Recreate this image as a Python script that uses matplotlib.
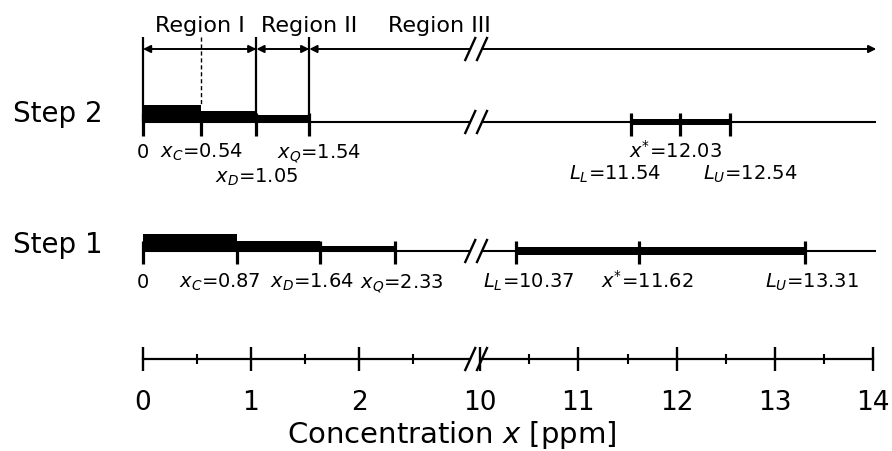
import matplotlib.pyplot as plt
from matplotlib.patches import Rectangle

plt.rcParams['font.family'] = ['DejaVu Sans']
plt.rcParams['mathtext.fontset'] = 'dejavusans'

# ---- values ----
s2_names = ['x_{C}', 'x_{D}', 'x_{Q}']
s2_low = [0.54, 1.05, 1.54]
s2_hi_names = ['L_{L}', 'x^{*}', 'L_{U}']
s2_high = [11.54, 12.03, 12.54]

s1_names = ['x_{C}', 'x_{D}', 'x_{Q}']
s1_low = [0.87, 1.64, 2.33]
s1_hi_names = ['L_{L}', 'x^{*}', 'L_{U}']
s1_high = [10.37, 11.62, 13.31]

major_lo = [0, 1, 2]
minor_lo = [0.5, 1.5, 2.5]
major_hi = [10, 11, 12, 13, 14]
minor_hi = [10.5, 11.5, 12.5, 13.5]

regions = ['Region I', 'Region II', 'Region III']

# ---- layout (pixels, y downwards) ----
W, H = 892, 452
y_top, y_s2, y_s1, y_ax = 50, 123, 252, 360
brk_l, brk_r, x_end = 3.03, 10.02, 14.03
s2_thick = [17, 11, 7]
s1_thick = [17, 10, 5]
s2_band, s1_band = 6, 8
lab_fs = 14

fig = plt.figure(figsize=(W / 100, H / 100), dpi=100)
axL = fig.add_axes([130 / W, 0, 346 / W, 1])
axR = fig.add_axes([476 / W, 0, 416 / W, 1])
axL.set_xlim(-0.12, 3.083)
axR.set_xlim(9.959, 14.19)
ppu = {axL: 346 / 3.203, axR: 416 / (14.19 - 9.959)}

for ax in (axL, axR):
    ax.set_ylim(H, 0)
    ax.patch.set_alpha(0)
    for s in ['top', 'left', 'right']:
        ax.spines[s].set_visible(False)
    ax.spines['bottom'].set_position(('data', y_ax))
    ax.spines['bottom'].set_linewidth(1.6)
    ax.set_yticks([])
    ax.tick_params(axis='x', which='major', direction='inout', length=17,
                   width=1.7, labelsize=19, pad=13)
    ax.tick_params(axis='x', which='minor', direction='inout', length=7, width=1.5)

axL.spines['bottom'].set_bounds(0, brk_l)
axR.spines['bottom'].set_bounds(brk_r, 14)
axL.set_xticks(major_lo)
axL.set_xticks(minor_lo, minor=True)
axR.set_xticks(major_hi)
axR.set_xticks(minor_hi, minor=True)


def slash(ax, x, y):
    d = 5 / ppu[ax]
    ax.plot([x - d, x + d], [y + 11, y - 11], color='k', lw=1.7, clip_on=False)


def breaks(y):
    slash(axL, brk_l, y)
    slash(axR, brk_r, y)


def hline(ax, x0, x1, y):
    ax.plot([x0, x1], [y, y], color='k', lw=1.5, solid_capstyle='butt')


def label(ax, txt, x, y, dx=0, size=lab_fs):
    ax.annotate(txt, xy=(x, y), xytext=(dx * 0.72, 0), textcoords='offset points',
                ha='center', va='baseline', fontsize=size, annotation_clip=False)


for y in (y_top, y_s2, y_s1, y_ax):
    breaks(y)

# ---- step 2 ----
hline(axL, 0, brk_l, y_s2)
hline(axR, brk_r, x_end, y_s2)
edges = [0] + s2_low
for a, b, t in zip(edges[:-1], edges[1:], s2_thick):
    axL.add_patch(Rectangle((a, y_s2 - t), b - a, t + 1, color='k', lw=0))
axR.add_patch(Rectangle((s2_high[0], y_s2 - s2_band / 2), s2_high[2] - s2_high[0],
                        s2_band, color='k', lw=0))
axL.vlines(edges, y_s2 - 9, y_s2 + 14, color='k', lw=2.3)
axR.vlines(s2_high, y_s2 - 9, y_s2 + 14, color='k', lw=2.3)

label(axL, '0', 0, 158)
label(axL, f'${s2_names[0]}$={s2_low[0]:.2f}', s2_low[0], 158)
label(axL, f'${s2_names[1]}$={s2_low[1]:.2f}', s2_low[1], 183)
label(axL, f'${s2_names[2]}$={s2_low[2]:.2f}', s2_low[2], 158, dx=10)
label(axR, f'${s2_hi_names[1]}$={s2_high[1]:.2f}', s2_high[1], 158, dx=-4)
label(axR, f'${s2_hi_names[0]}$={s2_high[0]:.2f}', s2_high[0], 180, dx=-16)
label(axR, f'${s2_hi_names[2]}$={s2_high[2]:.2f}', s2_high[2], 180, dx=20)

# ---- regions (top) ----
axL.vlines([0, s2_low[1], s2_low[2]], 38, y_s2, color='k', lw=1.6)
axL.vlines(s2_low[0], 38, y_s2 - s2_thick[0], color='k', lw=1, linestyles=(0, (3, 2)))
ap = dict(color='k', lw=1.4, mutation_scale=11, shrinkA=0, shrinkB=0)
axL.annotate('', xy=(0, y_top), xytext=(s2_low[1], y_top),
             arrowprops=dict(arrowstyle='<|-|>', **ap))
axL.annotate('', xy=(s2_low[1], y_top), xytext=(s2_low[2], y_top),
             arrowprops=dict(arrowstyle='<|-|>', **ap))
axL.annotate('', xy=(s2_low[2], y_top), xytext=(brk_l, y_top),
             arrowprops=dict(arrowstyle='-|>', **ap))
axR.annotate('', xy=(x_end, y_top), xytext=(brk_r, y_top),
             arrowprops=dict(arrowstyle='-|>', **ap), annotation_clip=False)

label(axL, regions[0], s2_low[1] / 2, 32, size=16)
label(axL, regions[1], s2_low[2], 32, size=16)
label(axL, regions[2], s2_low[2], 32, dx=130, size=16)

# ---- step 1 ----
hline(axL, 0, brk_l, y_s1)
hline(axR, brk_r, x_end, y_s1)
edges = [0] + s1_low
for a, b, t in zip(edges[:-1], edges[1:], s1_thick):
    axL.add_patch(Rectangle((a, y_s1 - t), b - a, t + 1, color='k', lw=0))
axR.add_patch(Rectangle((s1_high[0], y_s1 - s1_band / 2), s1_high[2] - s1_high[0],
                        s1_band, color='k', lw=0))
axL.vlines(edges, y_s1 - 10, y_s1 + 13, color='k', lw=2.3)
axR.vlines(s1_high, y_s1 - 10, y_s1 + 13, color='k', lw=2.3)

label(axL, '0', 0, 288)
for nm, v, dx in zip(s1_names, s1_low, [-17, -8, 7]):
    label(axL, f'${nm}$={v:.2f}', v, 288, dx=dx)
for nm, v, dx in zip(s1_hi_names, s1_high, [12, 8, 6]):
    label(axR, f'${nm}$={v:.2f}', v, 288, dx=dx)

# ---- side labels and axis title ----
fig.text(13 / W, 1 - 122 / H, 'Step 2', fontsize=20, va='baseline')
fig.text(13 / W, 1 - 253 / H, 'Step 1', fontsize=20, va='baseline')
fig.text(452 / W, 1 - 443 / H, 'Concentration $x$ [ppm]', fontsize=21,
         ha='center', va='baseline')

fig.savefig('out.png', dpi=100)
